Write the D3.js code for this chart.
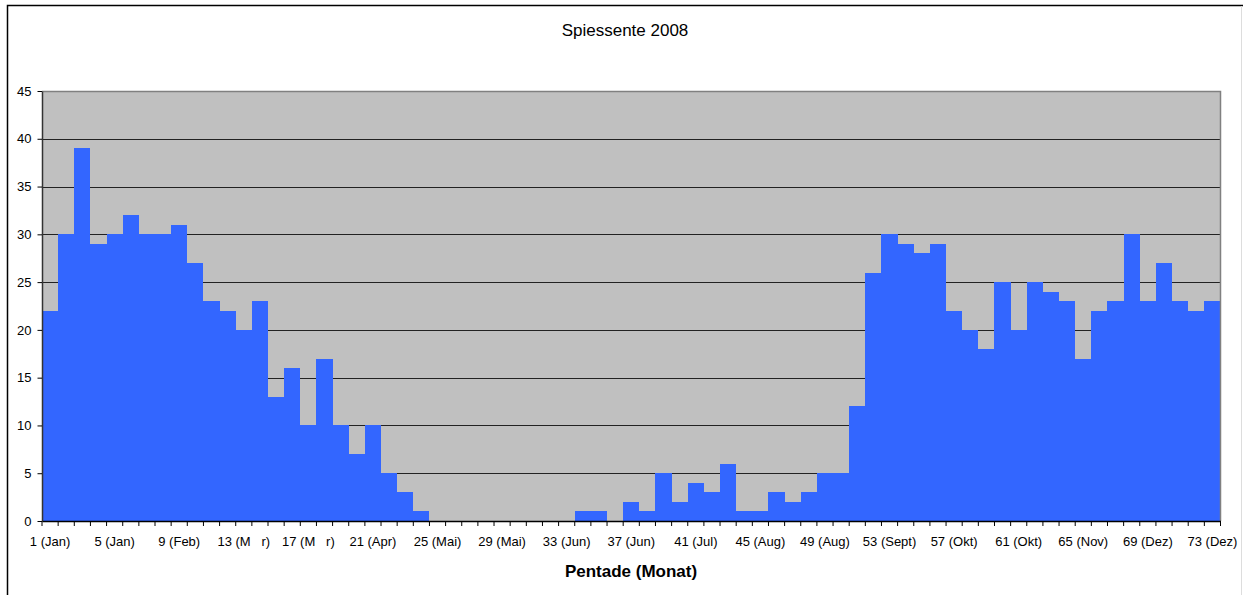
<!DOCTYPE html>
<html><head><meta charset="utf-8">
<script src="https://cdn.jsdelivr.net/npm/d3@7"></script>
<style>
html,body{margin:0;padding:0;background:#fff;}
svg text{font-family:"Liberation Sans",Arial,sans-serif;}
</style></head>
<body><svg id="c" width="1243" height="595"></svg>
<script>
const pentades = d3.range(1, 74);
const values = [22,30,39,29,30,32,30,30,31,27,23,22,20,23,13,16,10,17,10,7,10,5,3,1,
  0,0,0,0,0,0,0,0,0,1,1,0,2,1,5,2,4,3,6,1,1,3,2,3,5,5,12,26,30,29,28,29,22,20,18,25,20,25,24,23,17,22,23,30,23,27,23,22,23];
const labelMap = {1:"1 (Jan)",5:"5 (Jan)",9:"9 (Feb)",13:"13 (M\u00a0\u00a0\u00a0r)",17:"17 (M\u00a0\u00a0\u00a0r)",21:"21 (Apr)",
  25:"25 (Mai)",29:"29 (Mai)",33:"33 (Jun)",37:"37 (Jun)",41:"41 (Jul)",45:"45 (Aug)",49:"49 (Aug)",
  53:"53 (Sept)",57:"57 (Okt)",61:"61 (Okt)",65:"65 (Nov)",69:"69 (Dez)",73:"73 (Dez)"};
const yTicks = [0,5,10,15,20,25,30,35,40,45];
const title = "Spiessente 2008";
const xTitle = "Pentade (Monat)";

const svg = d3.select("#c");
svg.append("rect").attr("x",7.5).attr("y",5.5).attr("width",1240).attr("height",600)
  .attr("fill","#fff").attr("stroke","#000").attr("stroke-width",1.5);
svg.append("line").attr("x1",1241.5).attr("x2",1241.5).attr("y1",6).attr("y2",595).attr("stroke","#ddd");

const L=42, R=1220.5, T=91, B=521;
const x = d3.scaleBand().domain(pentades).range([L,R]).padding(0);
const y = d3.scaleLinear().domain([0,45]).range([B,T]);

svg.append("rect").attr("x",L).attr("y",T).attr("width",R-L).attr("height",B-T).attr("fill","#c0c0c0");
svg.append("g").selectAll("line").data(yTicks.filter(d=>d>0&&d<45)).join("line")
  .attr("x1",L).attr("x2",R).attr("y1",d=>Math.round(y(d))+0.5).attr("y2",d=>Math.round(y(d))+0.5)
  .attr("stroke","#222").attr("stroke-width",1);
svg.append("g").attr("shape-rendering","crispEdges").selectAll("rect").data(values).join("rect")
  .attr("x",(d,i)=>Math.round(x(pentades[i])))
  .attr("width",(d,i)=>Math.round(x(pentades[i])+x.bandwidth())-Math.round(x(pentades[i])))
  .attr("y",d=>Math.round(y(d))).attr("height",d=>B-Math.round(y(d))).attr("fill","#3366ff");
svg.append("path").attr("d",`M${L},${T+0.5}H${R}V${B}`).attr("fill","none").attr("stroke","#808080").attr("stroke-width",1.5);

const ya = svg.append("g").attr("transform",`translate(${L},0)`)
  .call(d3.axisLeft(y).tickValues(yTicks).tickSize(4.5).tickPadding(6).tickSizeOuter(0));
ya.select(".domain").attr("stroke","#333").attr("stroke-width",1.5);
ya.selectAll(".tick line").attr("stroke","#000");
ya.selectAll("text").attr("font-size",13).attr("fill","#000").attr("font-family","Liberation Sans, Arial, sans-serif");

const xa = svg.append("g").attr("transform",`translate(0,${B})`)
  .call(d3.axisBottom(x).tickFormat(d=>labelMap[d]||"").tickSize(0).tickPadding(16));
xa.select(".domain").attr("stroke","#000").attr("stroke-width",1.5);
xa.selectAll("text").attr("font-size",13).attr("fill","#000").attr("dy","0")
  .attr("font-family","Liberation Sans, Arial, sans-serif");
xa.selectAll(".tick text").attr("y",25);
const bounds = pentades.map(p=>x(p)).concat([R]);
xa.append("g").selectAll("line").data(bounds).join("line")
  .attr("x1",d=>d).attr("x2",d=>d).attr("y1",0).attr("y2",5).attr("stroke","#000");

svg.append("text").attr("x",625).attr("y",36).attr("text-anchor","middle")
  .attr("font-size",17).text(title);
svg.append("text").attr("x",631).attr("y",577).attr("text-anchor","middle")
  .attr("font-size",17).attr("font-weight","bold").text(xTitle);
</script></body></html>
